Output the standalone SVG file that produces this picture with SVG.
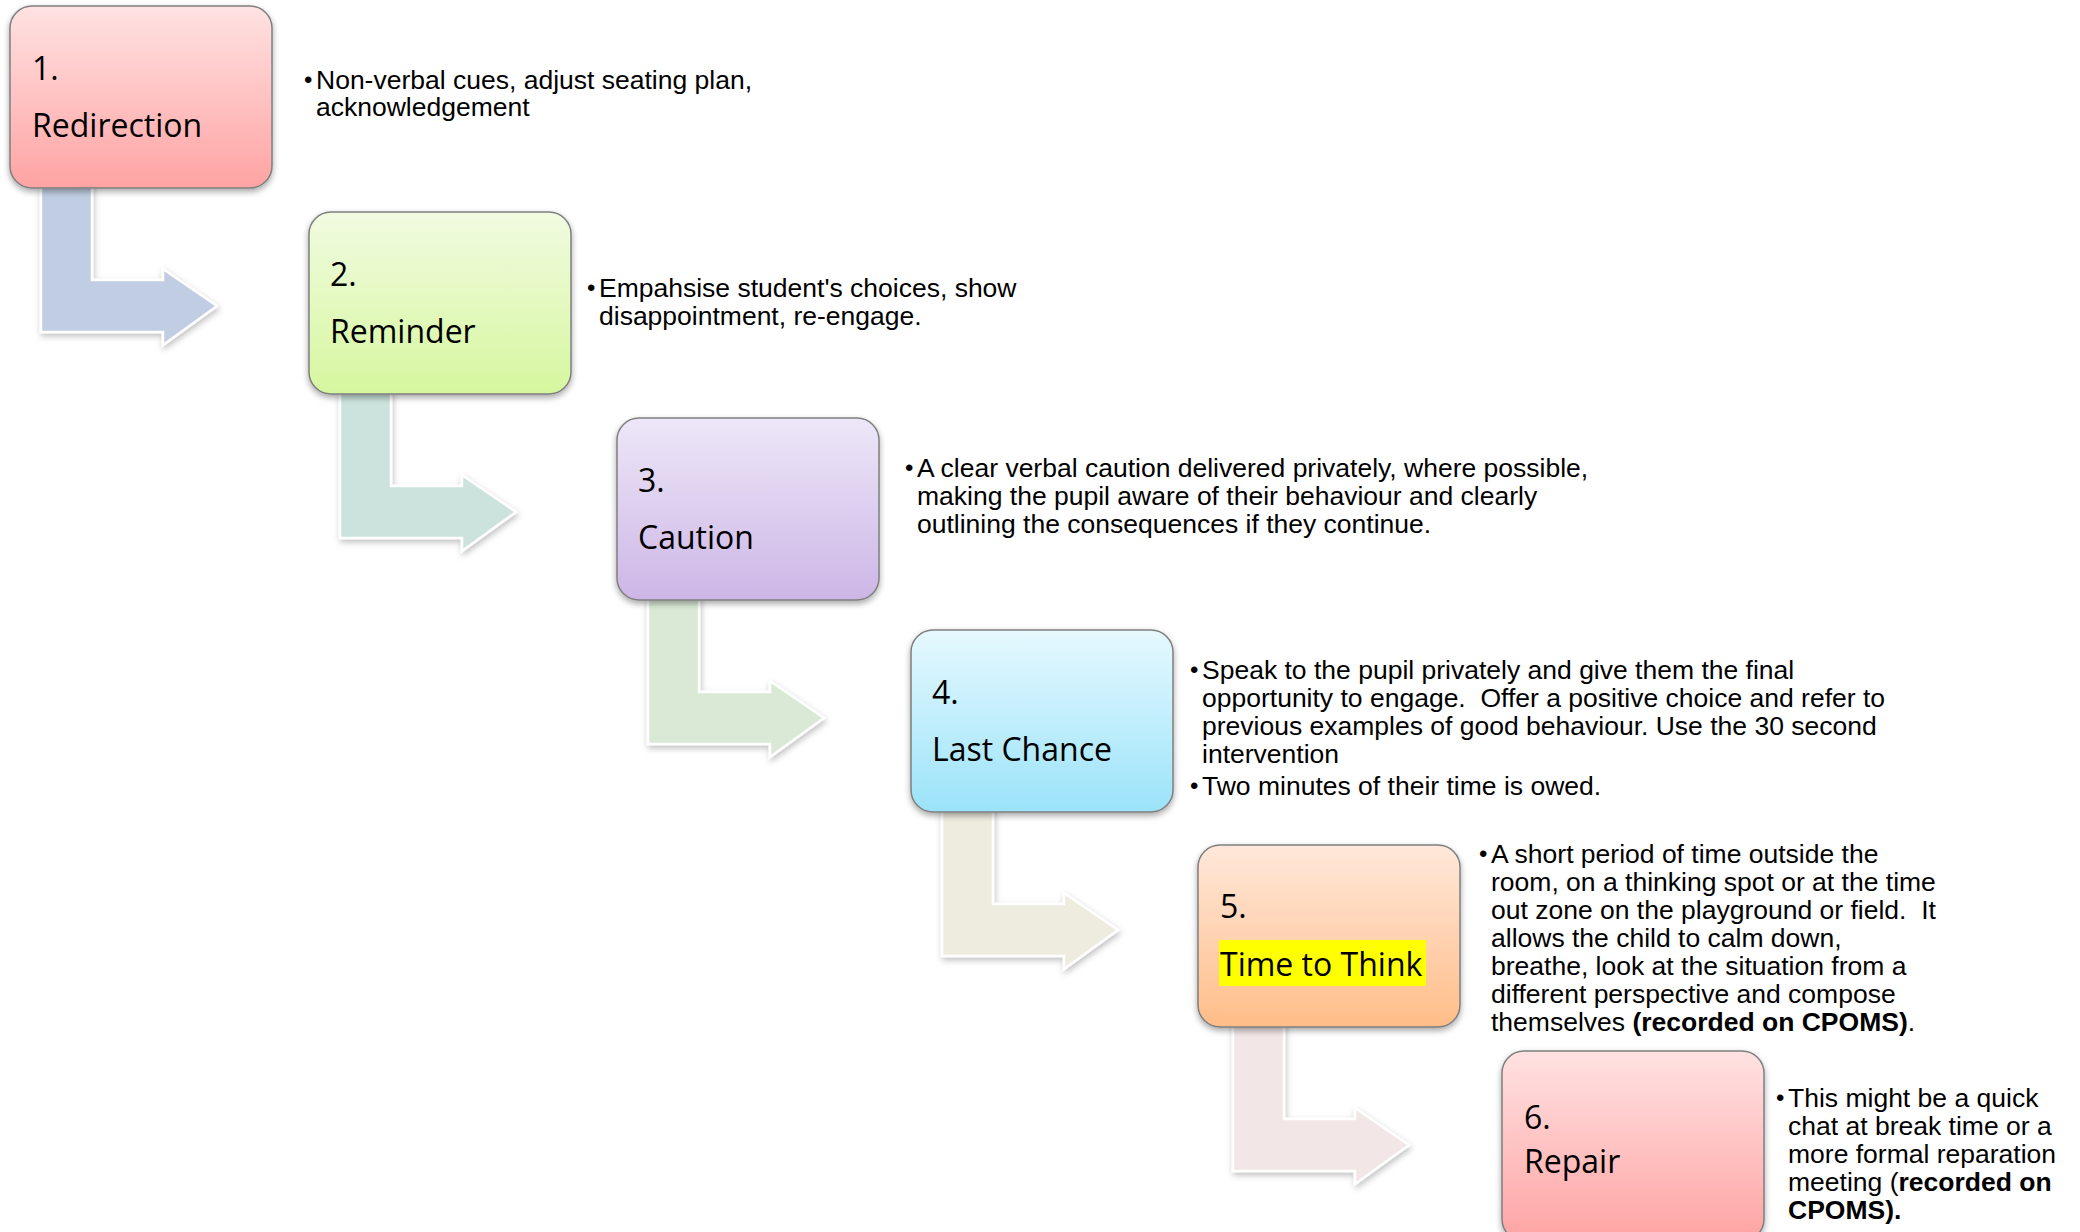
<svg xmlns="http://www.w3.org/2000/svg" width="2080" height="1232" viewBox="0 0 2080 1232">
<style>
.box{stroke:#7f7f7f;stroke-width:1.5}
.lbl{font-family:"Open Sans","Noto Sans",sans-serif;font-size:32px;fill:#000}
.desc{font-family:"Liberation Sans",Arial,sans-serif;font-size:26.5px;fill:#000}
.bul{font-family:"Liberation Sans",Arial,sans-serif;font-size:24px;fill:#000}
.b{font-weight:bold}
.arr{stroke:#ffffff;stroke-width:2.5;stroke-linejoin:miter}
</style>
<defs>
<filter id="sh" x="-10%" y="-10%" width="125%" height="130%">
<feDropShadow dx="0" dy="3" stdDeviation="3" flood-color="#000" flood-opacity="0.35"/>
</filter>
<filter id="ash" x="-10%" y="-10%" width="130%" height="130%">
<feDropShadow dx="1" dy="3" stdDeviation="3" flood-color="#000" flood-opacity="0.25"/>
</filter>
<linearGradient id="g1" x1="0" y1="0" x2="0" y2="1"><stop offset="0" stop-color="#ffe2e2"/><stop offset="1" stop-color="#ffa3a3"/></linearGradient>
<linearGradient id="g2" x1="0" y1="0" x2="0" y2="1"><stop offset="0" stop-color="#f1fbe1"/><stop offset="1" stop-color="#d6f79e"/></linearGradient>
<linearGradient id="g3" x1="0" y1="0" x2="0" y2="1"><stop offset="0" stop-color="#ede7f8"/><stop offset="1" stop-color="#cdb6e6"/></linearGradient>
<linearGradient id="g4" x1="0" y1="0" x2="0" y2="1"><stop offset="0" stop-color="#e6f9fe"/><stop offset="1" stop-color="#9be3f9"/></linearGradient>
<linearGradient id="g5" x1="0" y1="0" x2="0" y2="1"><stop offset="0" stop-color="#ffe8da"/><stop offset="1" stop-color="#ffbd88"/></linearGradient>
<path id="bent" d="M31,170 L82,170 L82,274 L153,274 L153,263 L207,300 L153,339 L153,326 L31,326 Z"/>
</defs>
<rect width="2080" height="1232" fill="#fff"/>

<g id="connectors">
<use href="#bent" class="arr" fill="#c1cde2" filter="url(#ash)" transform="translate(10,6)"/>
<use href="#bent" class="arr" fill="#cbe3dc" filter="url(#ash)" transform="translate(309,212)"/>
<use href="#bent" class="arr" fill="#dae9d6" filter="url(#ash)" transform="translate(617,418)"/>
<use href="#bent" class="arr" fill="#eeecdf" filter="url(#ash)" transform="translate(911,630)"/>
<use href="#bent" class="arr" fill="#f2e6e6" filter="url(#ash)" transform="translate(1202,845)"/>
</g>

<g id="node1">
<rect class="box" x="10" y="6" width="262" height="182" rx="22" fill="url(#g1)" filter="url(#sh)"/>
<text class="lbl" x="32" y="80">1.</text>
<text class="lbl" x="32" y="137">Redirection</text>
<text class="bul" x="304" y="88">•</text>
<text class="desc" x="316" y="89">Non-verbal cues, adjust seating plan,</text>
<text class="desc" x="316" y="116">acknowledgement</text>
</g>

<g id="node2">
<rect class="box" x="309" y="212" width="262" height="182" rx="22" fill="url(#g2)" filter="url(#sh)"/>
<text class="lbl" x="330" y="286">2.</text>
<text class="lbl" x="330" y="343">Reminder</text>
<text class="bul" x="587" y="296">•</text>
<text class="desc" x="599" y="297">Empahsise student's choices, show</text>
<text class="desc" x="599" y="325">disappointment, re-engage.</text>
</g>

<g id="node3">
<rect class="box" x="617" y="418" width="262" height="182" rx="22" fill="url(#g3)" filter="url(#sh)"/>
<text class="lbl" x="638" y="492">3.</text>
<text class="lbl" x="638" y="549">Caution</text>
<text class="bul" x="905" y="476">•</text>
<text class="desc" x="917" y="477">A clear verbal caution delivered privately, where possible,</text>
<text class="desc" x="917" y="505">making the pupil aware of their behaviour and clearly</text>
<text class="desc" x="917" y="533">outlining the consequences if they continue.</text>
</g>

<g id="node4">
<rect class="box" x="911" y="630" width="262" height="182" rx="22" fill="url(#g4)" filter="url(#sh)"/>
<text class="lbl" x="932" y="704">4.</text>
<text class="lbl" x="932" y="761">Last Chance</text>
<text class="bul" x="1190" y="678">•</text>
<text class="desc" x="1202" y="679">Speak to the pupil privately and give them the final</text>
<text class="desc" x="1202" y="707" xml:space="preserve">opportunity to engage.  Offer a positive choice and refer to</text>
<text class="desc" x="1202" y="735">previous examples of good behaviour. Use the 30 second</text>
<text class="desc" x="1202" y="763">intervention</text>
<text class="bul" x="1190" y="794">•</text>
<text class="desc" x="1202" y="795">Two minutes of their time is owed.</text>
</g>

<g id="node5">
<rect class="box" x="1198" y="845" width="262" height="182" rx="22" fill="url(#g5)" filter="url(#sh)"/>
<text class="lbl" x="1220" y="918">5.</text>
<rect x="1219" y="940" width="207" height="46" fill="#ffff00"/>
<text class="lbl" x="1220" y="976">Time to Think</text>
<text class="bul" x="1479" y="862">•</text>
<text class="desc" x="1491" y="863">A short period of time outside the</text>
<text class="desc" x="1491" y="891">room, on a thinking spot or at the time</text>
<text class="desc" x="1491" y="919" xml:space="preserve">out zone on the playground or field.  It</text>
<text class="desc" x="1491" y="947">allows the child to calm down,</text>
<text class="desc" x="1491" y="975">breathe, look at the situation from a</text>
<text class="desc" x="1491" y="1003">different perspective and compose</text>
<text class="desc" x="1491" y="1031" xml:space="preserve">themselves <tspan class="b">(recorded on CPOMS)</tspan>.</text>
</g>

<g id="node6">
<rect class="box" x="1502" y="1051" width="262" height="190" rx="22" fill="url(#g1)" filter="url(#sh)"/>
<text class="lbl" x="1524" y="1129">6.</text>
<text class="lbl" x="1524" y="1173">Repair</text>
<text class="bul" x="1776" y="1106">•</text>
<text class="desc" x="1788" y="1107">This might be a quick</text>
<text class="desc" x="1788" y="1135">chat at break time or a</text>
<text class="desc" x="1788" y="1163">more formal reparation</text>
<text class="desc" x="1788" y="1191" xml:space="preserve">meeting (<tspan class="b">recorded on</tspan></text>
<text class="desc b" x="1788" y="1219">CPOMS).</text>
</g>
</svg>
